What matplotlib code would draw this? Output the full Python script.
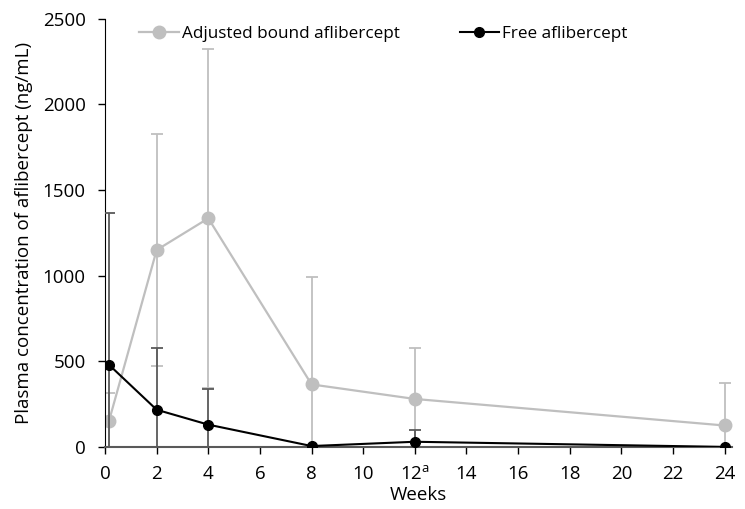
import matplotlib.pyplot as plt
import numpy as np

plt.rcParams["font.family"] = ["Open Sans", "DejaVu Sans"]

weeks = [0.15, 2, 4, 8, 12, 24]
bound_mean = [150, 1150, 1335, 365, 280, 125]
bound_sd = [165, 680, 990, 625, 295, 250]
free_mean = [480, 217, 130, 5, 30, 0]
free_sd = [885, 358, 210, 0, 70, 0]
xticks = [0, 2, 4, 6, 8, 10, 12, 14, 16, 18, 20, 22, 24]
xtick_labels = [str(t) for t in xticks]
xtick_labels[6] = r"12$^{\mathregular{a}}$"

fig = plt.figure(figsize=(7.45, 5.09), dpi=100)
ax = fig.add_axes([0.141, 0.122, 0.842, 0.841])

ax.errorbar(weeks, bound_mean, yerr=bound_sd, color="#bfbfbf", ecolor="#bfbfbf",
            elinewidth=1.3, capsize=4, capthick=1.3, marker="o", markersize=9,
            linewidth=1.6, label="Adjusted bound aflibercept", zorder=2)
ax.errorbar(weeks, free_mean, yerr=free_sd, color="black", ecolor="#595959",
            elinewidth=1.3, capsize=4, capthick=1.3, marker="o", markersize=7,
            linewidth=1.5, label="Free aflibercept", zorder=3)

ax.set_xlim(0, 24.3)
ax.set_ylim(0, 2500)
ax.set_xticks(xticks, labels=xtick_labels)
ax.set_yticks([0, 500, 1000, 1500, 2000, 2500])
ax.tick_params(labelsize=13.5, length=5, width=1)
ax.tick_params(axis="y", pad=9)
ax.tick_params(axis="x", pad=8)
ax.spines["top"].set_visible(False)
ax.spines["right"].set_visible(False)
ax.spines["bottom"].set_color("#595959")
ax.spines["bottom"].set_linewidth(1.5)
ax.set_xlabel("Weeks", fontsize=13.5, labelpad=2)
ax.set_ylabel("Plasma concentration of aflibercept (ng/mL)", fontsize=13.5, labelpad=7)

handles, labels = ax.get_legend_handles_labels()
handles = [h[0] for h in handles]
ax.legend(handles, labels, loc="upper left", bbox_to_anchor=(0.03, 1.02), ncol=2,
          frameon=False, fontsize=12.3, handlelength=2.3, handletextpad=0.2,
          columnspacing=3.5)

fig.savefig("out.png", dpi=100)
